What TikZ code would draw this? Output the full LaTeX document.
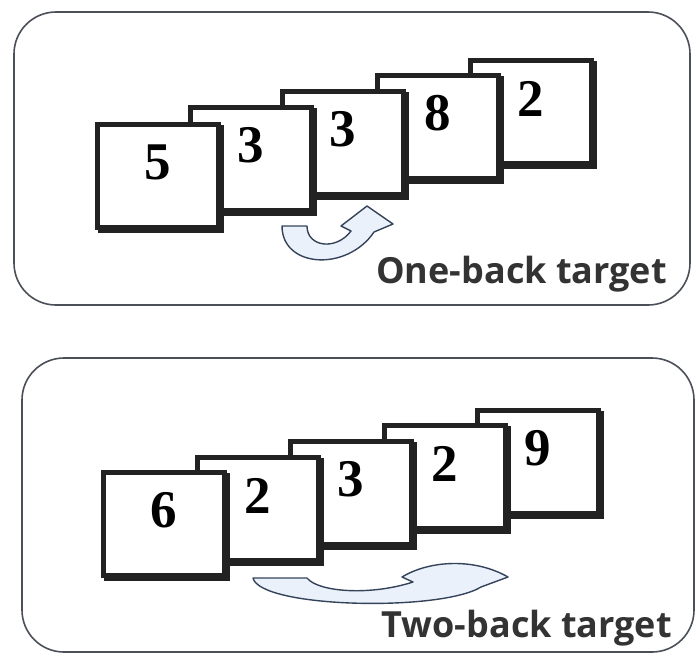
\documentclass[tikz,border=0pt]{standalone}
\usepackage{fontspec}
\setmainfont{Liberation Serif}
\newfontfamily\labelfont{Open Sans}
\definecolor{panelgray}{HTML}{4A4F58}
\definecolor{cardink}{HTML}{222222}
\definecolor{arrowfill}{HTML}{EAF1FA}
\definecolor{arrowline}{HTML}{34435A}

\begin{document}
\begin{tikzpicture}[x=1pt, y=-1pt,
  card/.style={rectangle, draw=cardink, fill=white, line width=4.5pt,
    minimum width=121pt, minimum height=103pt, inner sep=0pt, text height=0.8em,
    font=\bfseries\fontsize{53}{53}\selectfont,
    preaction={draw=cardink, fill=cardink, line width=4.5pt,
      transform canvas={xshift=3pt, yshift=-3pt}}},
  panel/.style={draw=panelgray, line width=1.6pt, rounded corners=42pt},
  tag/.style={anchor=base east, inner sep=0pt, text=black!80,
    font=\labelfont\bfseries\fontsize{36}{36}\selectfont},
  backarrow/.style={fill=arrowfill, draw=arrowline, line width=1.4pt, line join=round}]
\useasboundingbox (0,0) rectangle (696,657);

% one-back block
\draw [panel] (14,12) rectangle (690,305);
\node [card] (a5) at (531,112) {2};
\node [card] (a4) at (438,127) {8};
\node [card] (a3) at (343,143) {3};
\node [card] (a2) at (251,159) {3};
\node [card] (a1) at (158,176) {5};
\filldraw [backarrow] (282,226) .. controls (282,268) and (347,272) .. (374,232)
    -- (393,224) -- (367,206) -- (341,226) -- (351,231)
    .. controls (336,251) and (307,247) .. (307,226) -- cycle;
\node [tag] (lab1) at (667,283) {One-back target};

% two-back block
\draw [panel] (22,358) rectangle (694,652);
\node [card] (b5) at (538,462) {9};
\node [card] (b4) at (445,477) {2};
\node [card] (b3) at (351,493) {3};
\node [card] (b2) at (258,509) {2};
\node [card] (b1) at (164,524) {6};
\filldraw [backarrow] (253,578) .. controls (260,608) and (440,612) .. (481,587)
    -- (508,577) .. controls (475,558) and (430,560) .. (402,577) -- (413,582)
    .. controls (370,596) and (318,592) .. (307,578) -- cycle;
\node [tag] (lab2) at (672,637) {Two-back target};
\end{tikzpicture}
\end{document}
